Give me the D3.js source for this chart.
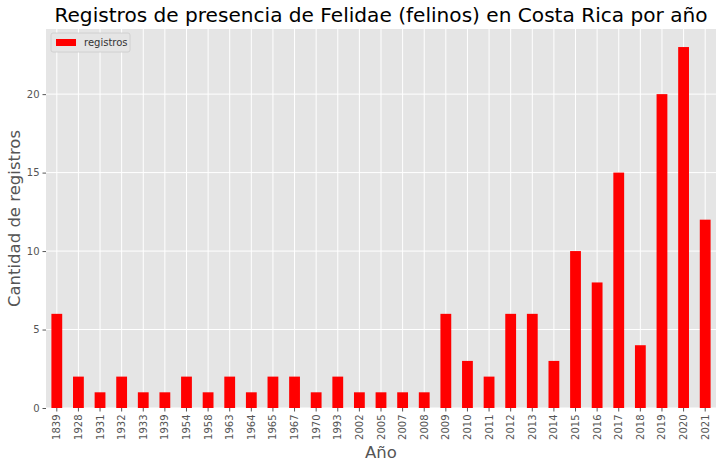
<!DOCTYPE html>
<html>
<head>
<meta charset="utf-8">
<script src="https://cdn.jsdelivr.net/npm/d3@7"></script>
<style>
  body { margin: 0; background: #fff; }
  text { font-family: "DejaVu Sans", sans-serif; }
</style>
</head>
<body>
<svg width="722" height="467"></svg>
<script>
// data
let years = ['1839', '1928', '1931', '1932', '1933', '1939', '1954', '1958', '1963', '1964',
  '1965', '1967', '1970', '1993', '2002', '2005', '2007', '2008', '2009', '2010',
  '2011', '2012', '2013', '2014', '2015', '2016', '2017', '2018', '2019', '2020', '2021']
let registros = [6, 2, 1, 2, 1, 1, 2, 1, 2, 1,
  2, 2, 1, 2, 1, 1, 1, 1, 6, 3,
  2, 6, 6, 3, 10, 8, 15, 4, 20, 23, 12]
let yTicks = [0, 5, 10, 15, 20]

function main() {
  let svg = d3.select('svg'),
    left = 46, top = 29, right = 716, bottom = 408,
    width = right - left,
    height = bottom - top

  let xScale = d3.scaleBand().domain(years).range([0, width]).paddingInner(0).paddingOuter(0),
    yScale = d3.scaleLinear().domain([0, d3.max(registros) * 1.05]).range([height, 0])

  let g = svg.append('g').attr('transform', 'translate(' + left + ',' + top + ')')

  // background
  g.append('rect').attr('width', width).attr('height', height).attr('fill', '#e5e5e5')

  // grid
  g.selectAll('.vgrid').data(years).enter().append('line')
    .attr('x1', d => xScale(d) + xScale.bandwidth() / 2)
    .attr('x2', d => xScale(d) + xScale.bandwidth() / 2)
    .attr('y1', 0).attr('y2', height)
    .attr('stroke', '#fff').attr('stroke-width', 1)
  g.selectAll('.hgrid').data(yTicks).enter().append('line')
    .attr('x1', 0).attr('x2', width)
    .attr('y1', d => yScale(d)).attr('y2', d => yScale(d))
    .attr('stroke', '#fff').attr('stroke-width', 1)

  // bars
  g.selectAll('.bar').data(years).enter().append('rect')
    .attr('x', d => xScale(d) + xScale.bandwidth() * 0.25)
    .attr('width', xScale.bandwidth() * 0.5)
    .attr('y', (d, i) => yScale(registros[i]))
    .attr('height', (d, i) => height - yScale(registros[i]))
    .attr('fill', '#ff0000')

  // x axis
  let xAxis = g.append('g')
    .attr('transform', 'translate(0,' + height + ')')
    .call(d3.axisBottom(xScale).tickSize(3.5).tickPadding(3))
  xAxis.select('.domain').remove()
  xAxis.selectAll('line').attr('stroke', '#555')
  xAxis.selectAll('text')
    .attr('transform', 'rotate(-90)')
    .attr('text-anchor', 'end')
    .attr('x', -6.5).attr('y', 0).attr('dy', '0.35em')
    .attr('fill', '#555').style('font-size', '10px')

  // y axis
  let yAxis = g.append('g')
    .call(d3.axisLeft(yScale).tickValues(yTicks).tickSize(3.5).tickPadding(3))
  yAxis.select('.domain').remove()
  yAxis.selectAll('line').attr('stroke', '#555')
  yAxis.selectAll('text').attr('fill', '#555').style('font-size', '10px')

  // title & labels
  svg.append('text')
    .attr('x', left + width / 2).attr('y', 22)
    .attr('text-anchor', 'middle')
    .style('font-size', '20.1px').attr('fill', '#000')
    .text('Registros de presencia de Felidae (felinos) en Costa Rica por año')

  svg.append('text')
    .attr('x', left + width / 2).attr('y', 458)
    .attr('text-anchor', 'middle')
    .style('font-size', '16.5px').attr('fill', '#555')
    .text('Año')

  svg.append('text')
    .attr('transform', 'translate(20,' + (top + height / 2) + ') rotate(-90)')
    .attr('text-anchor', 'middle')
    .style('font-size', '16.5px').attr('fill', '#555')
    .text('Cantidad de registros')

  // legend
  let lg = g.append('g').attr('transform', 'translate(5,4)')
  lg.append('rect').attr('width', 79).attr('height', 19).attr('rx', 2)
    .attr('fill', '#e5e5e5').attr('stroke', '#cccccc').attr('stroke-width', 0.8)
  lg.append('rect').attr('x', 5).attr('y', 6).attr('width', 20).attr('height', 7).attr('fill', '#ff0000')
  lg.append('text').attr('x', 33).attr('y', 13).style('font-size', '10px').attr('fill', '#333')
    .text('registros')
}
main()
</script>
</body>
</html>
